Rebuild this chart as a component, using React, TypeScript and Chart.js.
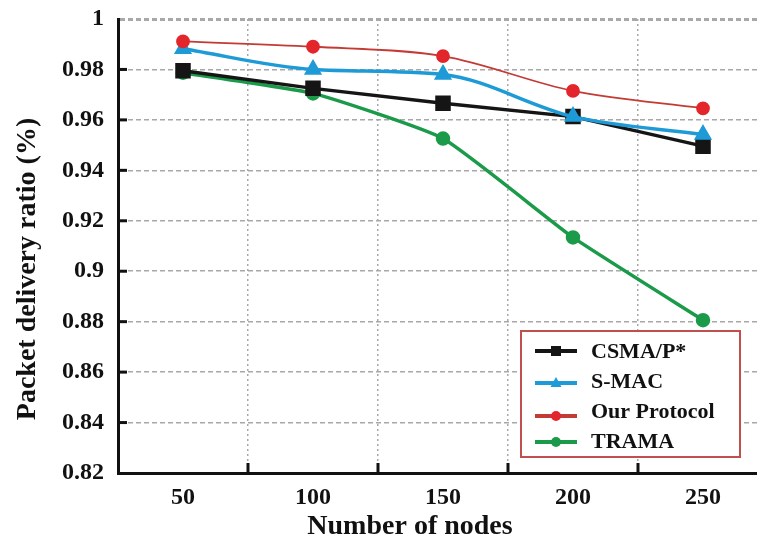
import React, { useEffect, useRef } from "react";
import { Chart, registerables } from "chart.js";

Chart.register(...registerables);

const categories = ["50", "100", "150", "200", "250"];
const csmaValues = [0.9795, 0.9725, 0.9666, 0.9613, 0.9496];
const smacValues = [0.9882, 0.98, 0.978, 0.9613, 0.9542];
const oursValues = [0.9911, 0.989, 0.9853, 0.9715, 0.9646];
const tramaValues = [0.9787, 0.9705, 0.9526, 0.9134, 0.8806];
const yMin = 0.82;
const yMax = 1;
const yStep = 0.02;
const xTitle = "Number of nodes";
const yTitle = "Packet delivery ratio (%)";

const SERIF = "'Liberation Serif', 'Times New Roman', serif";

const overlayPlugin = {
  id: "overlay",
  afterDraw(chart: any) {
    const ctx = chart.ctx;
    const area = chart.chartArea;
    const xs = chart.scales.x;
    const ys = chart.scales.y;
    ctx.save();
    // inner tick marks
    ctx.strokeStyle = "#111";
    ctx.lineWidth = 3;
    ys.ticks.forEach((t: any) => {
      if (t.value <= yMin + 1e-9 || t.value >= yMax - 1e-9) return;
      const y = ys.getPixelForValue(t.value);
      ctx.beginPath();
      ctx.moveTo(area.left, y);
      ctx.lineTo(area.left + 9, y);
      ctx.stroke();
    });
    for (let i = 0; i < categories.length - 1; i++) {
      const x = (xs.getPixelForValue(i) + xs.getPixelForValue(i + 1)) / 2;
      ctx.beginPath();
      ctx.moveTo(x, area.bottom);
      ctx.lineTo(x, area.bottom - 10);
      ctx.stroke();
    }
    // axis titles
    ctx.fillStyle = "#111";
    ctx.font = `bold 28px ${SERIF}`;
    ctx.textAlign = "center";
    ctx.textBaseline = "middle";
    ctx.fillText(xTitle, 410, 527);
    ctx.save();
    ctx.translate(28, 269);
    ctx.rotate(-Math.PI / 2);
    ctx.fillText(yTitle, 0, 0);
    ctx.restore();

    // legend
    const bx = 521, by = 331, bw = 219, bh = 126;
    ctx.fillStyle = "#fff";
    ctx.fillRect(bx, by, bw, bh);
    ctx.strokeStyle = "#c0504d";
    ctx.lineWidth = 2;
    ctx.strokeRect(bx, by, bw, bh);
    const legendOrder = [0, 1, 2, 3];
    const textYs = [351, 381, 411, 441];
    const lineYs = [351, 383, 416, 442];
    legendOrder.forEach((di, k) => {
      const ds = chart.data.datasets[di];
      const ly = lineYs[k];
      ctx.strokeStyle = ds.borderColor;
      ctx.lineWidth = 4;
      ctx.beginPath();
      ctx.moveTo(535, ly);
      ctx.lineTo(577, ly);
      ctx.stroke();
      const cx = 556;
      ctx.fillStyle = ds.pointBackgroundColor;
      const style = ds.pointStyle;
      ctx.beginPath();
      if (style === "rect") {
        ctx.rect(cx - 5, ly - 5, 10, 10);
      } else if (style === "triangle") {
        ctx.moveTo(cx, ly - 6);
        ctx.lineTo(cx + 5.5, ly + 4);
        ctx.lineTo(cx - 5.5, ly + 4);
        ctx.closePath();
      } else {
        ctx.arc(cx, ly, 5, 0, Math.PI * 2);
      }
      ctx.fill();
      ctx.fillStyle = "#111";
      ctx.font = `bold 22px ${SERIF}`;
      ctx.textAlign = "left";
      ctx.textBaseline = "middle";
      ctx.fillText(ds.label, 591, textYs[k] + 1);
    });
    ctx.restore();
  },
};

export default function App() {
  const ref = useRef<HTMLCanvasElement | null>(null);
  useEffect(() => {
    if (!ref.current) return;
    const chart = new Chart(ref.current, {
      type: "line",
      data: {
        labels: categories,
        datasets: [
          {
            label: "CSMA/P*",
            data: csmaValues,
            borderColor: "#151515",
            backgroundColor: "#151515",
            pointBackgroundColor: "#151515",
            pointBorderColor: "#151515",
            pointStyle: "rect",
            pointRadius: 8.5,
            borderWidth: 3.5,
            tension: 0,
            order: 2,
          },
          {
            label: "S-MAC",
            data: smacValues,
            borderColor: "#1e9bd7",
            backgroundColor: "#1e9bd7",
            pointBackgroundColor: "#1e9bd7",
            pointBorderColor: "#1e9bd7",
            pointStyle: "triangle",
            pointRadius: 7,
            borderWidth: 3.5,
            cubicInterpolationMode: "monotone",
            order: 1,
          },
          {
            label: "Our Protocol",
            data: oursValues,
            borderColor: "#c43a35",
            backgroundColor: "#e3262c",
            pointBackgroundColor: "#e3262c",
            pointBorderColor: "#e3262c",
            pointStyle: "circle",
            pointRadius: 6,
            borderWidth: 1.8,
            cubicInterpolationMode: "monotone",
            order: 0,
          },
          {
            label: "TRAMA",
            data: tramaValues,
            borderColor: "#1b9a4a",
            backgroundColor: "#1b9a4a",
            pointBackgroundColor: "#1b9a4a",
            pointBorderColor: "#1b9a4a",
            pointStyle: "circle",
            pointRadius: 5.5,
            borderWidth: 3.5,
            tension: 0.15,
            order: 3,
          },
        ],
      },
      options: {
        responsive: false,
        animation: false,
        layout: { autoPadding: false, padding: { top: 19, left: 0, right: 0, bottom: 0 } },
        plugins: {
          legend: { display: false },
          tooltip: { enabled: false },
        },
        scales: {
          x: {
            type: "category",
            offset: true,
            afterFit: (s: any) => {
              s.height = 71;
            },
            grid: {
              offset: true,
              drawTicks: false,
              color: "#a8a8a8",
              lineWidth: 1.5,
            },
            border: { display: true, color: "#111", width: 3, dash: [2, 3] },
            ticks: {
              padding: 10,
              color: "#111",
              font: { family: SERIF, size: 24, weight: "bold" },
            },
          },
          y: {
            min: yMin,
            max: yMax,
            afterFit: (s: any) => {
              s.width = 118;
            },
            grid: {
              drawTicks: true,
              tickLength: 14,
              tickColor: "rgba(0,0,0,0)",
              color: "#a8a8a8",
              lineWidth: (c: any) => (c.tick && Math.abs(c.tick.value - yMax) < 1e-9 ? 3 : 1.5),
            },
            border: { display: true, color: "#111", width: 3, dash: [5, 3] },
            ticks: {
              stepSize: yStep,
              padding: 0,
              color: "#111",
              font: { family: SERIF, size: 24, weight: "bold" },
              callback: (v: any) => String(Number(Number(v).toFixed(2))),
            },
          },
        },
      },
      plugins: [overlayPlugin],
    } as any);
    return () => chart.destroy();
  }, []);
  return (
    <div
      style={{
        position: "fixed",
        left: 0,
        top: 0,
        width: 757,
        height: 544,
        overflow: "hidden",
        background: "#fff",
      }}
    >
      <canvas ref={ref} width={768} height={544} style={{ display: "block" }} />
    </div>
  );
}
